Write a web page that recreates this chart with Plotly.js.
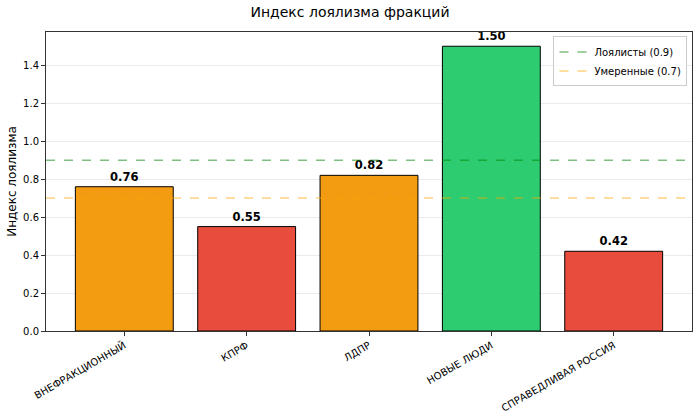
<!DOCTYPE html>
<html>
<head>
<meta charset="utf-8">
<script src="https://cdn.plot.ly/plotly-3.0.1.min.js"></script>
<style>
  html, body { margin: 0; padding: 0; background: #fff; }
  #graph { width: 700px; height: 417px; }
</style>
</head>
<body>
<div id="graph"></div>
<script>
const factions = ["ВНЕФРАКЦИОННЫЙ", "КПРФ", "ЛДПР", "НОВЫЕ ЛЮДИ", "СПРАВЕДЛИВАЯ РОССИЯ"];
const loyalty = [0.76, 0.55, 0.82, 1.50, 0.42];
const barColors = ["#f39c12", "#e74c3c", "#f39c12", "#2ecc71", "#e74c3c"];
const thresholdNames = ["Лоялисты (0.9)", "Умеренные (0.7)"];
const thresholdValues = [0.9, 0.7];
const thresholdColors = ["rgba(0,128,0,0.5)", "rgba(255,165,0,0.5)"];
const yTicks = [0, 0.2, 0.4, 0.6, 0.8, 1.0, 1.2, 1.4];

const FONT = "DejaVu Sans, sans-serif";

const bars = {
  x: factions,
  y: loyalty,
  type: "bar",
  width: 0.8,
  marker: { color: barColors, line: { color: "#000", width: 1 } },
  text: loyalty.map((v) => v.toFixed(2)),
  textposition: "outside",
  textfont: { family: FONT, size: 11.5, color: "#000", weight: "bold" },
  cliponaxis: false,
  showlegend: false,
  hoverinfo: "x+y",
};

const lines = thresholdValues.map((v, i) => ({
  x: [0, 1],
  y: [v, v],
  xaxis: "x2",
  mode: "lines",
  name: thresholdNames[i],
  line: { color: thresholdColors[i], dash: "dash", width: 1.5 },
  hoverinfo: "name",
}));

const layout = {
  width: 700,
  height: 417,
  margin: { l: 46, r: 8, t: 32, b: 86 },
  paper_bgcolor: "#fff",
  plot_bgcolor: "#fff",
  font: { family: FONT, size: 10, color: "#000" },
  title: {
    text: "Индекс лоялизма фракций",
    font: { family: FONT, size: 14, color: "#000" },
    x: 0.5,
    xanchor: "center",
    y: 0.983,
    yanchor: "top",
  },
  xaxis: {
    type: "category",
    range: [-0.64, 4.64],
    tickangle: -30,
    ticks: "outside",
    ticklen: 4,
    tickcolor: "#333",
    tickfont: { family: FONT, size: 10, color: "#000" },
    showline: true,
    linecolor: "#333",
    linewidth: 1,
    mirror: true,
    showgrid: false,
    fixedrange: true,
  },
  xaxis2: {
    overlaying: "x",
    range: [0, 1],
    visible: false,
    fixedrange: true,
  },
  yaxis: {
    range: [0, 1.575],
    tickvals: yTicks,
    ticktext: yTicks.map((v) => v.toFixed(1)),
    ticks: "outside",
    ticklen: 4,
    tickcolor: "#333",
    tickfont: { family: FONT, size: 10, color: "#000" },
    showline: true,
    linecolor: "#333",
    linewidth: 1,
    mirror: true,
    showgrid: true,
    gridcolor: "rgba(0,0,0,0.08)",
    zeroline: false,
    title: { text: "Индекс лоялизма", font: { family: FONT, size: 12, color: "#000" }, standoff: 3 },
    fixedrange: true,
  },
  legend: {
    x: 0.993,
    y: 0.985,
    xanchor: "right",
    yanchor: "top",
    bgcolor: "rgba(255,255,255,0.8)",
    bordercolor: "#ccc",
    borderwidth: 1,
    font: { family: FONT, size: 10, color: "#000" },
    itemwidth: 30,
    tracegroupgap: 0,
  },
  bargap: 0.2,
};

Plotly.newPlot("graph", [bars, ...lines], layout, { displayModeBar: false, staticPlot: true });
</script>
</body>
</html>
